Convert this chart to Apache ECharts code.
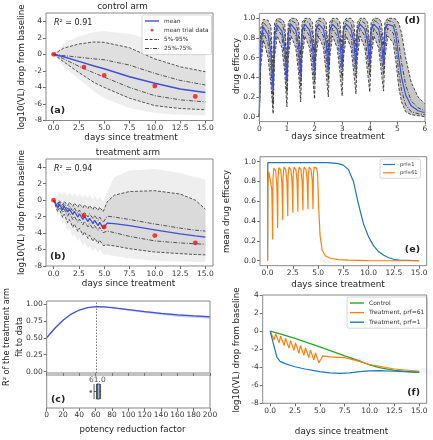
<!DOCTYPE html>
<html><head><meta charset="utf-8">
<script src="https://cdn.jsdelivr.net/npm/echarts@6/dist/echarts.min.js"></script>
<style>html,body{margin:0;padding:0;background:#fff}#c{width:433px;height:440px}</style>
</head><body><div id="c"></div>
<script>
// ================= DATA =================
// (a) control arm
const aDays = [0, 1, 2.5, 4, 5, 7.5, 10, 12.5, 15];
const aMean = [0, -0.3, -0.85, -1.4, -1.75, -2.7, -3.5, -4.2, -4.6];
const aP95 = [0, 0.75, 1.25, 1.5, 1.45, 0.8, -0.55, -1.5, -2.1];
const aP75 = [0, -0.15, -0.35, -0.55, -0.65, -1.3, -2.3, -3.15, -3.7];
const aP25 = [0, -0.55, -1.45, -2.25, -2.75, -4.0, -5.0, -5.5, -5.75];
const aP5 = [0, -0.9, -2.2, -3.4, -4.0, -5.3, -6.2, -6.55, -6.7];
const aCloudHi = [0, 1.3, 2.2, 2.7, 2.8, 2.5, 1.6, 0.7, 0.2];
const aCloudLo = [0, -1.5, -3.0, -4.5, -5.3, -6.5, -7.1, -7.3, -7.4];
const aTrialDays = [0, 3, 5, 10, 14];
const aTrialVL = [0, -1.54, -2.55, -3.84, -5.1];

// (b) treatment arm
const bDays = [0, 0.4, 0.55, 0.9, 1.05, 1.4, 1.55, 1.9, 2.05, 2.4, 2.55, 2.9, 3.05, 3.4, 3.55, 3.9, 4.05, 4.4, 4.55, 4.9, 5.3, 6, 7.5, 10, 12.5, 14, 15];
const bMean = [0, -0.85, -0.45, -1.15, -0.75, -1.45, -1.05, -1.75, -1.35, -2.05, -1.65, -2.35, -1.95, -2.6, -2.2, -2.85, -2.45, -3.1, -2.7, -3.4, -2.8, -2.85, -3.1, -3.6, -4.1, -4.35, -4.5];
const bP95 = [0, -0.45, -0.05, -0.55, -0.15, -0.65, -0.25, -0.75, -0.35, -0.85, -0.45, -0.95, -0.55, -1.05, -0.65, -1.15, -0.75, -1.25, -0.85, -1.4, -0.2, 0.6, 1.05, 1.15, 0.75, 0.0, -1.1];
const bP75 = [0, -0.6, -0.2, -0.85, -0.45, -1.1, -0.7, -1.35, -0.95, -1.6, -1.2, -1.85, -1.45, -2.05, -1.65, -2.25, -1.85, -2.45, -2.05, -2.7, -1.95, -2.05, -2.35, -2.9, -3.4, -3.65, -3.75];
const bP25 = [0, -1.0, -0.6, -1.5, -1.1, -1.95, -1.55, -2.35, -1.95, -2.7, -2.3, -3.0, -2.6, -3.25, -2.85, -3.5, -3.1, -3.7, -3.3, -3.95, -3.75, -3.95, -4.4, -4.95, -5.2, -5.3, -5.35];
const bP5 = [0, -1.4, -1.0, -2.1, -1.7, -2.75, -2.35, -3.3, -2.9, -3.8, -3.4, -4.25, -3.85, -4.65, -4.25, -5.0, -4.6, -5.25, -4.85, -5.5, -5.45, -5.55, -5.9, -6.3, -6.5, -6.6, -6.65];
const bCloudHi = [0, 0.6, 1.0, 0.6, 1.0, 0.5, 0.9, 0.5, 0.9, 0.4, 0.8, 0.3, 0.7, 0.2, 0.6, 0.1, 0.5, 0.0, 0.4, -0.2, 1.0, 2.8, 3.6, 3.8, 3.3, 2.8, 2.5];
const bCloudLo = [0, -2.0, -1.6, -3.0, -2.6, -3.8, -3.4, -4.5, -4.1, -5.0, -4.6, -5.5, -5.1, -5.9, -5.5, -6.2, -5.8, -6.4, -6.0, -6.6, -6.6, -6.8, -7.1, -7.35, -7.45, -7.5, -7.5];
const bTrialDays = [0, 3, 5, 10, 14];
const bTrialVL = [0, -1.87, -3.25, -4.3, -5.2];

// (c) potency reduction factor scan
const cPrf = [0, 10, 20, 30, 40, 50, 61, 70, 80, 100, 120, 140, 160, 180, 200];
const cR2 = [0.50, 0.64, 0.76, 0.85, 0.91, 0.945, 0.96, 0.955, 0.945, 0.915, 0.885, 0.86, 0.838, 0.822, 0.81];
const cR2Lo = [0.49, 0.63, 0.755, 0.845, 0.905, 0.94, 0.955, 0.948, 0.935, 0.9, 0.865, 0.835, 0.81, 0.795, 0.78];
const cR2Hi = [0.51, 0.65, 0.765, 0.855, 0.915, 0.95, 0.965, 0.962, 0.952, 0.925, 0.897, 0.873, 0.852, 0.838, 0.825];
const cBestPrf = 61;
const cBox = [58, 61, 62, 65, 66];
const cOutlier = 54;
const cBestLabel = '61.0';
const cBestLabelX = 62;

// (d) drug efficacy
const dDays = [0, 0.05, 0.15, 0.32, 0.42, 0.5, 0.55, 0.65, 0.82, 0.92, 1.0, 1.05, 1.15, 1.32, 1.42, 1.5, 1.55, 1.65, 1.82, 1.92, 2.0, 2.05, 2.15, 2.32, 2.42, 2.5, 2.55, 2.65, 2.82, 2.92, 3.0, 3.05, 3.15, 3.32, 3.42, 3.5, 3.55, 3.65, 3.82, 3.92, 4.0, 4.05, 4.15, 4.32, 4.42, 4.5, 4.55, 4.65, 4.85, 4.95, 5.05, 5.15, 5.3, 5.5, 5.75, 6.0];
const dMean = [0.0, 0.75, 0.91, 0.83, 0.65, 0.25, 0.82, 0.93, 0.87, 0.71, 0.37, 0.85, 0.94, 0.88, 0.73, 0.42, 0.86, 0.94, 0.88, 0.74, 0.45, 0.87, 0.94, 0.89, 0.75, 0.47, 0.87, 0.94, 0.89, 0.75, 0.49, 0.88, 0.94, 0.89, 0.76, 0.5, 0.88, 0.94, 0.89, 0.76, 0.51, 0.88, 0.94, 0.89, 0.76, 0.52, 0.88, 0.94, 0.92, 0.82, 0.6, 0.4, 0.22, 0.11, 0.06, 0.04];
const dP95 = [0.0, 0.9, 0.99, 0.98, 0.92, 0.45, 0.95, 1.0, 0.99, 0.95, 0.58, 0.96, 1.0, 1.0, 0.96, 0.63, 0.96, 1.0, 1.0, 0.96, 0.66, 0.96, 1.0, 1.0, 0.96, 0.68, 0.96, 1.0, 1.0, 0.96, 0.7, 0.96, 1.0, 1.0, 0.96, 0.71, 0.96, 1.0, 1.0, 0.96, 0.72, 0.96, 1.0, 1.0, 0.96, 0.73, 0.96, 1.0, 1.0, 0.99, 0.95, 0.85, 0.6, 0.35, 0.2, 0.13];
const dP75 = [0.0, 0.8, 0.96, 0.9, 0.76, 0.33, 0.88, 0.98, 0.95, 0.85, 0.47, 0.88, 0.98, 0.95, 0.85, 0.53, 0.88, 0.98, 0.95, 0.85, 0.56, 0.88, 0.98, 0.95, 0.85, 0.58, 0.88, 0.98, 0.95, 0.85, 0.6, 0.88, 0.98, 0.95, 0.85, 0.61, 0.88, 0.98, 0.95, 0.85, 0.62, 0.88, 0.98, 0.95, 0.85, 0.63, 0.88, 0.98, 0.96, 0.9, 0.75, 0.55, 0.32, 0.16, 0.09, 0.06];
const dP25 = [0.0, 0.62, 0.86, 0.74, 0.5, 0.12, 0.72, 0.9, 0.82, 0.6, 0.25, 0.72, 0.9, 0.82, 0.6, 0.31, 0.72, 0.9, 0.82, 0.6, 0.35, 0.72, 0.9, 0.82, 0.6, 0.37, 0.72, 0.9, 0.82, 0.6, 0.39, 0.72, 0.9, 0.82, 0.6, 0.41, 0.72, 0.9, 0.82, 0.6, 0.42, 0.72, 0.9, 0.82, 0.6, 0.43, 0.72, 0.9, 0.85, 0.7, 0.45, 0.27, 0.12, 0.05, 0.03, 0.02];
const dP5 = [0.0, 0.5, 0.78, 0.6, 0.33, 0.03, 0.6, 0.82, 0.7, 0.45, 0.1, 0.6, 0.82, 0.7, 0.45, 0.15, 0.6, 0.82, 0.7, 0.45, 0.18, 0.6, 0.82, 0.7, 0.45, 0.2, 0.6, 0.82, 0.7, 0.45, 0.21, 0.6, 0.82, 0.7, 0.45, 0.23, 0.6, 0.82, 0.7, 0.45, 0.25, 0.6, 0.82, 0.7, 0.45, 0.26, 0.6, 0.82, 0.75, 0.55, 0.3, 0.15, 0.05, 0.02, 0.01, 0.0];

// (e) mean drug efficacy
const eDays61 = [0, 0.03, 0.12, 0.3, 0.42, 0.5, 0.53, 0.62, 0.8, 0.92, 1.0, 1.03, 1.12, 1.3, 1.42, 1.5, 1.53, 1.62, 1.8, 1.92, 2.0, 2.03, 2.12, 2.3, 2.42, 2.5, 2.53, 2.62, 2.8, 2.92, 3.0, 3.03, 3.12, 3.3, 3.42, 3.5, 3.53, 3.62, 3.8, 3.92, 4.0, 4.03, 4.12, 4.3, 4.42, 4.5, 4.53, 4.62, 4.85, 4.95, 5.05, 5.2, 5.4, 5.7, 6.2, 7, 8, 10, 15];
const eEff61 = [0.0, 0.78, 0.9, 0.88, 0.72, 0.215, 0.82, 0.935, 0.91, 0.76, 0.33, 0.84, 0.94, 0.915, 0.78, 0.41, 0.85, 0.945, 0.92, 0.79, 0.45, 0.86, 0.945, 0.92, 0.8, 0.485, 0.87, 0.945, 0.92, 0.8, 0.495, 0.87, 0.945, 0.92, 0.8, 0.51, 0.87, 0.945, 0.92, 0.81, 0.52, 0.87, 0.945, 0.92, 0.81, 0.52, 0.87, 0.945, 0.935, 0.88, 0.55, 0.25, 0.11, 0.05, 0.025, 0.012, 0.006, 0.002, 0.0];
const eDays1 = [0, 0.02, 2, 4, 6, 6.5, 7, 7.5, 8, 8.5, 9, 9.5, 10, 10.5, 11, 11.5, 12, 12.5, 13, 15];
const eEff1 = [0, 0.99, 0.99, 0.99, 0.99, 0.985, 0.98, 0.965, 0.92, 0.8, 0.57, 0.37, 0.24, 0.15, 0.09, 0.055, 0.03, 0.015, 0.007, 0.0];

// (f) model comparison
const fDaysC = [0, 1, 2.5, 5, 7.5, 9, 10, 11, 12.5, 14, 15];
const fControl = [0, -0.3, -0.8, -1.75, -2.75, -3.3, -3.75, -4.05, -4.35, -4.5, -4.55];
const fDays61 = [0, 0.4, 0.55, 0.9, 1.05, 1.4, 1.55, 1.9, 2.05, 2.4, 2.55, 2.9, 3.05, 3.4, 3.55, 3.9, 4.05, 4.4, 4.55, 4.9, 5.3, 6, 7.5, 8.8, 10, 12.5, 15];
const fTreat61 = [0, -1.0, -0.3, -1.3, -0.55, -1.6, -0.8, -1.9, -1.05, -2.15, -1.3, -2.45, -1.6, -2.7, -1.85, -2.95, -2.1, -3.2, -2.4, -3.5, -2.75, -2.85, -2.95, -3.3, -3.7, -4.2, -4.45];
const fDays1 = [0, 0.3, 0.7, 1.0, 1.5, 2.5, 3.5, 5, 6, 7, 8, 9, 10, 11, 12.5, 15];
const fTreat1 = [0, -1.3, -2.95, -3.35, -3.6, -3.95, -4.2, -4.5, -4.62, -4.68, -4.62, -4.48, -4.4, -4.38, -4.45, -4.57];

// tick labels
const dayTicks = [0, 2.5, 5, 7.5, 10, 12.5, 15];
const vlTicks = [-8, -6, -4, -2, 0, 2, 4];
const effTicks = [0, 0.2, 0.4, 0.6, 0.8, 1.0];
const r2Ticks = [0, 0.25, 0.5, 0.75, 1.0];
const prfTicks = [0, 20, 40, 60, 80, 100, 120, 140, 160, 180, 200];
const dTicks = [0, 1, 2, 3, 4, 5, 6];

// ================= BUILD =================
const FONT = 'DejaVu Sans';
const BLUE = '#3f4fd8', TBLUE = '#1f77b4', TORANGE = '#ff7f0e', TGREEN = '#2ca02c';
const DASH = [3, 1.6], DASHDOT = [4, 1.5, 1, 1.5];
const P = (xs, ys) => xs.map((x, i) => [x, ys[i]]);

function line(name, gi, xs, ys, color, width, dash, z) {
  return {type: 'line', name, xAxisIndex: gi, yAxisIndex: gi, data: P(xs, ys), symbol: 'none',
    lineStyle: {color, width, type: dash || 'solid'}, itemStyle: {color}, z: z || 3, silent: true, animation: false};
}
function band(id, gi, xs, lo, hi, color, z) {
  const pts = P(xs, hi).concat(P(xs, lo).reverse());
  return {type: 'custom', name: id, xAxisIndex: gi, yAxisIndex: gi, coordinateSystem: 'cartesian2d',
    data: [[xs[0], lo[0]]], z: z || 1, silent: true, animation: false, clip: true,
    renderItem: (params, api) => ({type: 'polygon', shape: {points: pts.map(p => api.coord(p))}, style: {fill: color}})};
}
const tick = {show: true, inside: false, length: 3, lineStyle: {color: '#444', width: 0.8}};
function vAxis(gi, min, max, ticks, fmt, showLabel, margin) {
  return {type: 'value', gridIndex: gi, min, max, splitLine: {show: false}, axisLine: {show: false, onZero: false},
    axisTick: Object.assign({customValues: ticks}, tick),
    axisLabel: {show: showLabel !== false, customValues: ticks, formatter: fmt, fontSize: 7.5, color: '#333',
      margin: margin || 4, fontFamily: FONT}};
}
const f1 = v => v.toFixed(1), f0 = v => String(Math.round(v)), f2 = v => v.toFixed(2);

const grids = [
  {left: 46, top: 13, width: 167, height: 107.5},
  {left: 46, top: 159, width: 167, height: 107},
  {left: 46.7, top: 301, width: 163.3, height: 72},
  {left: 259.3, top: 13.4, width: 165.7, height: 108.2},
  {left: 260, top: 156.7, width: 166.7, height: 109},
  {left: 46.7, top: 375, width: 163.3, height: 33},
  {left: 262.7, top: 295, width: 164, height: 108.3}
].map(g => Object.assign({show: true, borderColor: '#888', borderWidth: 1, backgroundColor: 'transparent', z: 10}, g));

const xAxes = [
  vAxis(0, -0.75, 15.75, dayTicks, f1),
  vAxis(1, -0.75, 15.75, dayTicks, f1),
  vAxis(2, 0, 200, prfTicks, f0, false),
  vAxis(3, 0, 6, dTicks, f0, true, 3),
  vAxis(4, -0.75, 15.75, dayTicks, f1, true, 3.5),
  vAxis(5, 0, 200, prfTicks, f0, true, 3.5),
  vAxis(6, -0.75, 15.75, dayTicks, f1, true, 3.5)
];
const yAxes = [
  vAxis(0, -8, 5, vlTicks, f0),
  vAxis(1, -8, 5, vlTicks, f0),
  vAxis(2, -0.02, 1.043, r2Ticks, f2),
  vAxis(3, -0.05, 1.05, effTicks, f1),
  vAxis(4, -0.05, 1.05, effTicks, f1),
  {type: 'category', gridIndex: 5, data: [''], axisLine: {show: false, onZero: false}, axisTick: {show: false}, axisLabel: {show: false}},
  vAxis(6, -8, 4, vlTicks, f0)
];

const series = [];
// (a)
series.push(band('aCloud', 0, aDays, aCloudLo, aCloudHi, '#eeeeee', 1));
series.push(band('aInner', 0, aDays, aP5, aP95, '#dfdfdf', 1));
series.push(line('5%-95%', 0, aDays, aP95, '#444', 0.9, DASH));
series.push(line('5%-95%', 0, aDays, aP5, '#444', 0.9, DASH));
series.push(line('25%-75%', 0, aDays, aP75, '#444', 0.9, DASHDOT));
series.push(line('25%-75%', 0, aDays, aP25, '#444', 0.9, DASHDOT));
series.push(line('mean', 0, aDays, aMean, BLUE, 1.5, null, 4));
series.push({type: 'scatter', name: 'mean trial data', xAxisIndex: 0, yAxisIndex: 0, data: P(aTrialDays, aTrialVL),
  symbolSize: 4.8, itemStyle: {color: '#ee1111'}, z: 5, silent: true, animation: false});
// (b)
series.push(band('bCloud', 1, bDays, bCloudLo, bCloudHi, '#eeeeee', 1));
series.push(band('bInner', 1, bDays, bP5, bP95, '#dadada', 1));
series.push(line('5%-95%', 1, bDays, bP95, '#444', 0.9, DASH));
series.push(line('5%-95%', 1, bDays, bP5, '#444', 0.9, DASH));
series.push(line('25%-75%', 1, bDays, bP75, '#444', 0.9, DASHDOT));
series.push(line('25%-75%', 1, bDays, bP25, '#444', 0.9, DASHDOT));
series.push(line('mean', 1, bDays, bMean, BLUE, 1.3, null, 4));
series.push({type: 'scatter', name: 'mean trial data', xAxisIndex: 1, yAxisIndex: 1, data: P(bTrialDays, bTrialVL),
  symbolSize: 4.8, itemStyle: {color: '#ee1111'}, z: 5, silent: true, animation: false});
// (c) top
series.push(band('cBand', 2, cPrf, cR2Lo, cR2Hi, '#c9d3f2', 1));
const cLine = line('R2', 2, cPrf, cR2, BLUE, 1.3, null, 4);
cLine.markLine = {silent: true, symbol: 'none', label: {show: false}, animation: false,
  lineStyle: {color: '#555', type: [1.5, 1.5], width: 0.8}, data: [{xAxis: cBestPrf}]};
series.push(cLine);
// (c) bottom
series.push({type: 'boxplot', xAxisIndex: 5, yAxisIndex: 5, data: [cBox], boxWidth: [15, 15],
  itemStyle: {color: '#8fb8d8', borderColor: '#333', borderWidth: 0.8}, silent: true, animation: false});
series.push({type: 'scatter', xAxisIndex: 5, yAxisIndex: 5, data: [[cOutlier, 0]], symbolSize: 2.5,
  itemStyle: {color: '#333'}, silent: true, animation: false});
series.push({type: 'scatter', xAxisIndex: 5, yAxisIndex: 5, data: [[cBestLabelX, 0]], symbolSize: 0,
  label: {show: true, formatter: cBestLabel, position: 'inside', offset: [0, -11], fontSize: 7.5, color: '#222', fontFamily: FONT},
  silent: true, animation: false});
// (d)
series.push(band('dInner', 3, dDays, dP5, dP95, '#c6c6c6', 1));
series.push(line('d95', 3, dDays, dP95, '#222', 0.8, DASH));
series.push(line('d5', 3, dDays, dP5, '#222', 0.8, DASH));
series.push(line('d75', 3, dDays, dP75, '#222', 0.8, DASHDOT));
series.push(line('d25', 3, dDays, dP25, '#222', 0.8, DASHDOT));
series.push(line('dmean', 3, dDays, dMean, BLUE, 1.2, null, 4));
// (e)
series.push(line('prf=1', 4, eDays1, eEff1, TBLUE, 1.2));
series.push(line('prf=61', 4, eDays61, eEff61, TORANGE, 1.2));
// (f)
series.push(line('Control', 6, fDaysC, fControl, TGREEN, 1.2));
series.push(line('Treatment, prf=61', 6, fDays61, fTreat61, TORANGE, 1.2));
series.push(line('Treatment, prf=1', 6, fDays1, fTreat1, TBLUE, 1.2));

// legend icons (drawn shapes, not data)
const IC_SOLID = 'path://M0,0H14V1.4H0Z';
const IC_DASH = 'path://M0,0H3V1H0Z M4.6,0H7.6V1H4.6Z M9.2,0H12.2V1H9.2Z M13,0H14V1H13Z';
const IC_DASHDOT = 'path://M0,0H4V1H0Z M5.5,0H6.5V1H5.5Z M8,0H12V1H8Z M13.5,0H14V1H13.5Z';
const IC_DOT = 'path://M0,0 M6,6 M4.4,3 A1.4,1.4 0 1 1 1.6,3 A1.4,1.4 0 1 1 4.4,3 Z';

const legendBase = {orient: 'vertical', borderColor: '#ccc', borderWidth: 0.8, borderRadius: 2,
  backgroundColor: 'rgba(255,255,255,0.85)', selectedMode: false, padding: [3, 3, 3, 3]};
const legends = [
  Object.assign({}, legendBase, {data: [{name: 'mean', icon: IC_SOLID}, {name: 'mean trial data', icon: IC_DOT},
      {name: '5%-95%', icon: IC_DASH}, {name: '25%-75%', icon: IC_DASHDOT}], left: 142, top: 15,
    itemWidth: 14, itemHeight: 6, itemGap: 3.2, textStyle: {fontSize: 5.8, color: '#333', fontFamily: FONT}}),
  Object.assign({}, legendBase, {data: [{name: 'prf=1', icon: IC_SOLID}, {name: 'prf=61', icon: IC_SOLID}], left: 380, top: 159,
    itemWidth: 12, itemHeight: 5, itemGap: 3.3, textStyle: {fontSize: 5, color: '#333', fontFamily: FONT}}),
  Object.assign({}, legendBase, {data: [{name: 'Control', icon: IC_SOLID}, {name: 'Treatment, prf=61', icon: IC_SOLID},
      {name: 'Treatment, prf=1', icon: IC_SOLID}], left: 347, top: 297,
    itemWidth: 14, itemHeight: 6, itemGap: 3.6, textStyle: {fontSize: 6, color: '#333', fontFamily: FONT}})
];

function txt(x, y, text, size, o) {
  o = o || {};
  return {type: 'text', x, y, rotation: o.rot ? Math.PI / 2 : 0, silent: true, z: 50,
    style: {text, fontSize: size, fontFamily: FONT, fontWeight: o.bold ? 'bold' : 'normal',
      fontStyle: o.italic ? 'italic' : 'normal', fill: '#222', align: o.align || 'center', verticalAlign: 'middle'}};
}
const graphics = [
  txt(122.5, 6.5, 'control arm', 8.8),
  txt(128, 152.5, 'treatment arm', 8.8),
  txt(131, 137.5, 'days since treatment', 8.8),
  txt(128.5, 283.5, 'days since treatment', 8.8),
  txt(21.7, 67, 'log10(VL) drop from baseline', 8.6, {rot: true}),
  txt(21.7, 212.5, 'log10(VL) drop from baseline', 8.6, {rot: true}),
  txt(6.7, 337, 'R² of the treatment arm', 8.2, {rot: true}),
  txt(20, 337, 'fit to data', 8.2, {rot: true}),
  txt(132.5, 430, 'potency reduction factor', 8.6),
  txt(338, 136.3, 'days since treatment', 8.8),
  txt(236.7, 66, 'drug efficacy', 8.6, {rot: true}),
  txt(338, 285, 'days since treatment', 8.8),
  txt(226.7, 211.5, 'mean drug efficacy', 8.6, {rot: true}),
  txt(341.5, 431.5, 'days since treatment', 8.8),
  txt(236.7, 350, 'log10(VL) drop from baseline', 8.6, {rot: true}),
  txt(50, 111, '(a)', 9.5, {bold: true, align: 'left'}),
  txt(50, 257, '(b)', 9.5, {bold: true, align: 'left'}),
  txt(51, 400, '(c)', 9.5, {bold: true, align: 'left'}),
  txt(420, 21, '(d)', 9.5, {bold: true, align: 'right'}),
  txt(420, 249.5, '(e)', 9.5, {bold: true, align: 'right'}),
  txt(420, 392.5, '(f)', 9.5, {bold: true, align: 'right'}),
  // R² annotations: italic R + plain rest
  txt(54, 23, 'R', 8, {italic: true, align: 'left'}),
  txt(59.5, 23, '² = 0.91', 8, {align: 'left'}),
  txt(54, 169, 'R', 8, {italic: true, align: 'left'}),
  txt(59.5, 169, '² = 0.94', 8, {align: 'left'})
];

const chart = echarts.init(document.getElementById('c'), null, {renderer: 'canvas'});
chart.setOption({
  animation: false,
  backgroundColor: '#fff',
  textStyle: {fontFamily: FONT},
  grid: grids, xAxis: xAxes, yAxis: yAxes,
  legend: legends, series, graphic: graphics
});
</script>
</body></html>
